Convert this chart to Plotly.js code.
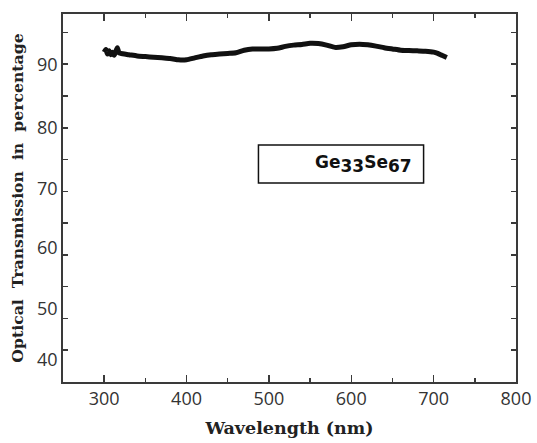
<!DOCTYPE html>
<html>
<head>
<meta charset="utf-8">
<script src="https://cdn.plot.ly/plotly-3.0.1.min.js"></script>
<style>html,body{margin:0;padding:0;background:#fff;}#chart{width:537px;height:443px;}</style>
</head>
<body>
<div id="chart"></div>
<script>
// Wavelength (nm)
var wavelength = [300, 302, 304, 306, 308, 310, 312, 314, 316, 318, 320, 330, 340, 350, 360, 370, 380, 390, 395, 400,
  410, 420, 430, 440, 450, 460, 470, 480, 490, 500, 510, 520, 530, 540, 550, 560, 570, 580, 590, 600,
  610, 620, 630, 640, 650, 660, 670, 680, 690, 700, 705, 710, 716];
// Optical transmission (%)
var transmission = [91.9, 92.3, 91.6, 92.1, 91.5, 91.9, 91.4, 92.0, 92.6, 91.8, 91.7, 91.5, 91.3, 91.2, 91.1, 91.0, 90.9, 90.7, 90.65, 90.7,
  91.0, 91.3, 91.5, 91.6, 91.7, 91.8, 92.2, 92.4, 92.4, 92.4, 92.5, 92.8, 93.0, 93.1, 93.3, 93.25, 93.0, 92.65, 92.75, 93.05,
  93.15, 93.05, 92.85, 92.6, 92.4, 92.2, 92.15, 92.1, 92.05, 91.9, 91.7, 91.4, 91.05];

var xTickVals = [300, 400, 500, 600, 700, 800];
var xTickText = ['300', '400', '500', '600', '700', '800'];
var yTickMarks = [45, 50, 55, 60, 65, 70, 75, 80, 85, 90, 95];
var yLabelText = ['40', '50', '60', '70', '80', '90'];
var yLabelPos = [43.5, 51.6, 61.2, 70.4, 80, 90];
var sampleLabel = 'Ge<sub><span style="font-size:17px">33</span></sub>Se<sub><span style="font-size:17px">67</span></sub>';

var axisColor = '#3a3a3a';
var tickFont = {family: 'Open Sans', size: 18, color: '#333'};

var trace = {
  x: wavelength, y: transmission, type: 'scatter', mode: 'lines',
  line: {color: '#111', width: 5, shape: 'spline', smoothing: 0.6},
  hoverinfo: 'skip', showlegend: false
};

var layout = {
  width: 537, height: 443,
  margin: {l: 63, r: 21, t: 14, b: 61},
  paper_bgcolor: '#fff', plot_bgcolor: '#fff',
  showlegend: false,
  xaxis: {
    range: [250, 800], tickmode: 'array', tickvals: xTickVals, ticktext: xTickText,
    ticks: 'inside', ticklen: 7, tickwidth: 1.5, tickcolor: axisColor,
    minor: {dtick: 50, tick0: 250, ticks: 'inside', ticklen: 4, tickwidth: 1.5, tickcolor: axisColor, showgrid: false},
    showline: true, linecolor: axisColor, linewidth: 1.8, mirror: 'ticks',
    showgrid: false, zeroline: false, tickfont: tickFont,
    title: {text: 'Wavelength (nm)', font: {family: 'DejaVu Serif', size: 17.5, color: '#222', weight: 'bold'}, standoff: 12}
  },
  yaxis: {
    range: [40, 97.9], tickmode: 'array', tickvals: yLabelPos, ticktext: yLabelText,
    ticks: 'inside', ticklen: 0, tickcolor: axisColor,
    minor: {tickmode: 'array', tickvals: yTickMarks, ticks: 'inside', ticklen: 5, tickwidth: 1.5, tickcolor: axisColor, showgrid: false},
    showline: true, linecolor: axisColor, linewidth: 1.8, mirror: 'ticks',
    showgrid: false, zeroline: false, tickfont: tickFont,
    title: {text: 'Optical  Transmission  in  percentage', font: {family: 'DejaVu Serif', size: 15.7, color: '#222', weight: 'bold'}, standoff: 9}
  },
  shapes: [{
    type: 'rect', xref: 'x', yref: 'y', x0: 487.3, x1: 687.8, y0: 71.3, y1: 77.3,
    line: {color: '#111', width: 1.5}, fillcolor: 'rgba(0,0,0,0)'
  }],
  annotations: [{
    xref: 'x', yref: 'y', x: 676, y: 74.3, xanchor: 'right', yanchor: 'middle',
    text: sampleLabel, showarrow: false,
    font: {family: 'DejaVu Sans', size: 17, color: '#111', weight: 'bold'}
  }]
};

Plotly.newPlot('chart', [trace], layout, {displayModeBar: false, staticPlot: true});
</script>
</body>
</html>
